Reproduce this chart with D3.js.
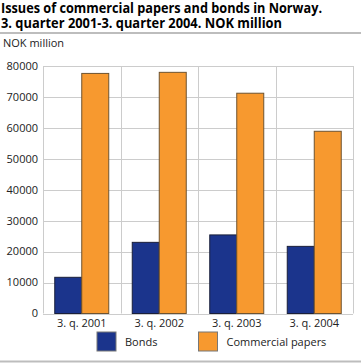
<!DOCTYPE html>
<html>
<head>
<meta charset="utf-8">
<script src="https://cdn.jsdelivr.net/npm/d3@7"></script>
<style>
  body { margin: 0; background: #fff; }
  text { font-family: "Open Sans", sans-serif; }
</style>
</head>
<body>
<div id="container" style="width:361px;height:363px"></div>
<script>
var categories = ["3. q. 2001", "3. q. 2002", "3. q. 2003", "3. q. 2004"];
var seriesNames = ["Bonds", "Commercial papers"];
var bonds = [11700, 23000, 25400, 21700];
var commercial = [77600, 77950, 71200, 58900];
var yTicks = [0, 10000, 20000, 30000, 40000, 50000, 60000, 70000, 80000];

var colors = ["#1b348c", "#f7992f"];
var strokes = ["#1a1f3a", "#6e5330"];

var svg = d3.select("#container").append("svg")
  .attr("width", 361).attr("height", 363);

// title
var titleLines = [
  { t: "Issues of commercial papers and bonds in Norway.", y: 12.5, w: 321 },
  { t: "3. quarter 2001-3. quarter 2004. NOK million", y: 27.8, w: 281 }
];
svg.selectAll("text.title").data(titleLines).enter().append("text")
  .attr("class", "title")
  .attr("x", 1).attr("y", function (d) { return d.y; })
  .attr("textLength", function (d) { return d.w; })
  .attr("lengthAdjust", "spacingAndGlyphs")
  .style("font-size", "13.5px").style("font-weight", "bold").style("fill", "#000")
  .text(function (d) { return d.t; });

svg.append("line").attr("x1", 0).attr("x2", 361).attr("y1", 33).attr("y2", 33)
  .style("stroke", "#bdbdbd").style("stroke-width", 2);
svg.append("line").attr("x1", 0).attr("x2", 361).attr("y1", 361.5).attr("y2", 361.5)
  .style("stroke", "#bdbdbd").style("stroke-width", 2);

svg.append("text").attr("x", 3).attr("y", 46.7)
  .style("font-size", "11px").style("fill", "#222").text("NOK million");

var pLeft = 43, pRight = 353, pTop = 66, pBottom = 313.5;

var x = d3.scaleBand().domain(categories).range([pLeft, pRight]);
var y = d3.scaleLinear().domain([0, 80000]).range([pBottom, pTop]);

var g = svg.append("g");

// horizontal grid
g.selectAll("line.h").data(yTicks).enter().append("line")
  .attr("x1", pLeft).attr("x2", pRight)
  .attr("y1", function (d) { return Math.round(y(d)) + 0.5; })
  .attr("y2", function (d) { return Math.round(y(d)) + 0.5; })
  .style("stroke", "#cccccc");

// vertical grid
var vx = categories.map(function (c) { return x(c); }).concat([pRight]);
g.selectAll("line.v").data(vx).enter().append("line")
  .attr("x1", function (d) { return Math.round(d) + 0.5; })
  .attr("x2", function (d) { return Math.round(d) + 0.5; })
  .attr("y1", pTop).attr("y2", pBottom)
  .style("stroke", "#cccccc");

// y tick labels
g.selectAll("text.yt").data(yTicks).enter().append("text")
  .attr("x", 38).attr("y", function (d) { return y(d); })
  .attr("dy", "0.35em")
  .style("text-anchor", "end").style("font-size", "11px").style("fill", "#222")
  .text(function (d) { return d; });

// x labels
g.selectAll("text.xt").data(categories).enter().append("text")
  .attr("x", function (d) { return x(d) + x.bandwidth() / 2; })
  .attr("y", 327)
  .style("text-anchor", "middle").style("font-size", "11px").style("fill", "#222")
  .text(function (d) { return d; });

var sub = d3.scaleBand().domain([0, 1]).range([0, 54]);
var series = [bonds, commercial];

series.forEach(function (vals, si) {
  g.selectAll("rect.s" + si).data(vals).enter().append("rect")
    .attr("x", function (d, i) { return x(categories[i]) + x.bandwidth() / 2 - 27 + sub(si); })
    .attr("y", function (d) { return y(d); })
    .attr("width", sub.bandwidth())
    .attr("height", function (d) { return pBottom - y(d); })
    .style("fill", colors[si])
    .style("stroke", strokes[si])
    .style("stroke-width", 1);
});

// legend
var legendX = [97, 198.5];
seriesNames.forEach(function (n, i) {
  svg.append("rect").attr("x", legendX[i]).attr("y", 332)
    .attr("width", 19).attr("height", 19)
    .style("fill", colors[i]).style("stroke", "#777");
  svg.append("text").attr("x", legendX[i] + 28).attr("y", 345.5)
    .style("font-size", "11px").style("fill", "#222").text(n);
});
</script>
</body>
</html>
